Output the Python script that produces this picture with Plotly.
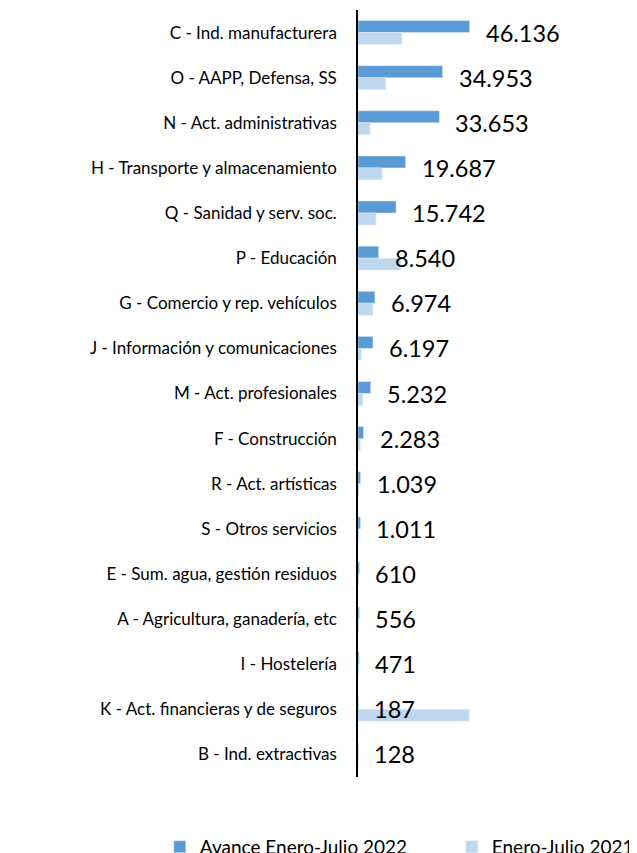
import plotly.graph_objects as go

categories = [
    "C - Ind. manufacturera",
    "O - AAPP, Defensa, SS",
    "N - Act. administrativas",
    "H - Transporte y almacenamiento",
    "Q - Sanidad y serv. soc.",
    "P - Educación",
    "G - Comercio y rep. vehículos",
    "J - Información y comunicaciones",
    "M - Act. profesionales",
    "F - Construcción",
    "R - Act. artísticas",
    "S - Otros servicios",
    "E - Sum. agua, gestión residuos",
    "A - Agricultura, ganadería, etc",
    "I - Hostelería",
    "K - Act. financieras y de seguros",
    "B - Ind. extractivas",
]
avance_2022 = [46136, 34953, 33653, 19687, 15742, 8540, 6974, 6197, 5232, 2283,
               1039, 1011, 610, 556, 471, 187, 128]
enero_julio_2021 = [18100, 11500, 5000, 9900, 7400, 17700, 6200, 1300, 2000, 1000,
                    350, 400, 300, 350, 300, 46000, 300]
labels_2022 = ["46.136", "34.953", "33.653", "19.687", "15.742", "8.540", "6.974",
               "6.197", "5.232", "2.283", "1.039", "1.011", "610", "556", "471",
               "187", "128"]

FONT = "Lato, Carlito, Calibri, sans-serif"

fig = go.Figure()
fig.add_trace(go.Bar(
    name="Avance Enero-Julio 2022", y=categories, x=avance_2022, orientation="h",
    marker=dict(color="#5B9BD5"),
))
fig.add_trace(go.Bar(
    name="Enero-Julio 2021", y=categories, x=enero_julio_2021, orientation="h",
    marker=dict(color="#BDD7EE"),
))

for cat, val, lab in zip(categories, avance_2022, labels_2022):
    fig.add_annotation(x=val, y=cat, text=lab, showarrow=False, xanchor="left",
                       yanchor="middle", xshift=14,
                       font=dict(family=FONT, size=23.5, color="#000000"))

fig.update_layout(
    width=637, height=853,
    paper_bgcolor="white", plot_bgcolor="white",
    margin=dict(l=350, r=45, t=2, b=84, autoexpand=False),
    barmode="group", bargap=0.47, bargroupgap=0,
    font=dict(family=FONT, size=17, color="#000000"),
    showlegend=True,
    legend=dict(orientation="h", x=-0.819, xanchor="left", y=-0.0664, yanchor="top",
                font=dict(family=FONT, size=19, color="#000000"),
                traceorder="normal", itemwidth=30, entrywidth=247),
)
fig.update_xaxes(range=[0, 100000], visible=False)
fig.update_yaxes(autorange="reversed", showline=True, linecolor="#000000",
                 linewidth=1.5, ticks="", showgrid=False, automargin=False,
                 tickfont=dict(family=FONT, size=17, color="#000000"),
                 ticklabelstandoff=16)

fig.write_html("out.html")
